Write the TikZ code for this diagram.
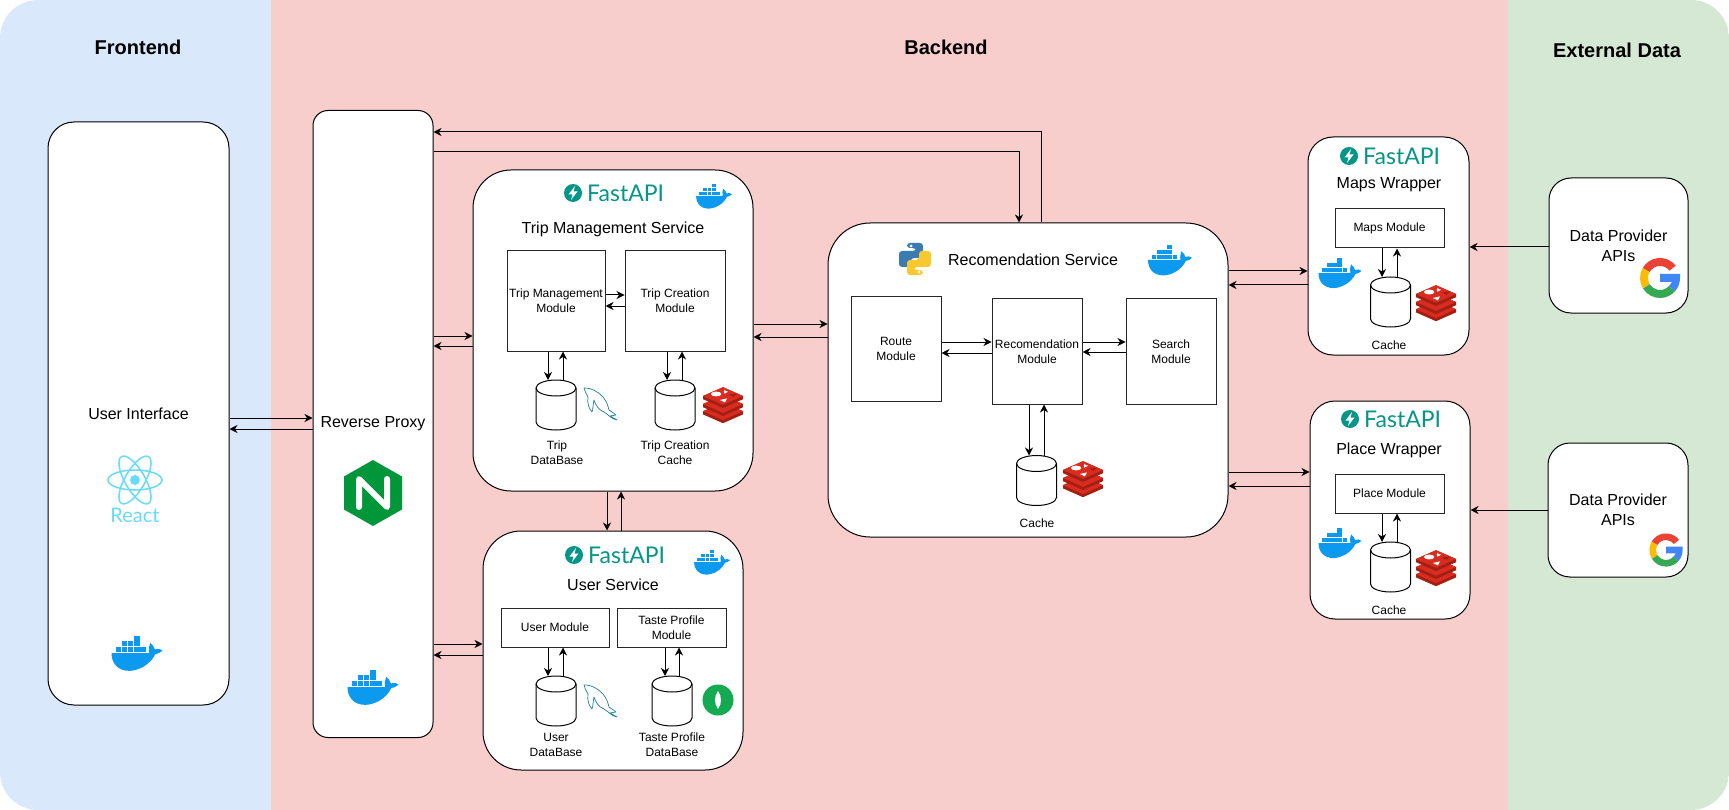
\documentclass[tikz,border=0pt]{standalone}
\usepackage{fontspec}
\setmainfont{Liberation Sans}
\newfontfamily\logofont{Lato}
\usetikzlibrary{arrows.meta}

\definecolor{frontbg}{HTML}{DAE8FC}
\definecolor{backbg}{HTML}{F8CECC}
\definecolor{extbg}{HTML}{D5E8D4}
\definecolor{dockerblue}{HTML}{0B9AEF}
\definecolor{fastteal}{HTML}{059688}
\definecolor{redisred}{HTML}{D82C20}
\definecolor{redisdark}{HTML}{A41E11}
\definecolor{mysqlteal}{HTML}{1F7F95}
\definecolor{reactblue}{HTML}{66DBFB}
\definecolor{nginxgreen}{HTML}{009639}
\definecolor{mongogreen}{HTML}{13AA52}
\definecolor{pyblue}{HTML}{3A7CB1}
\definecolor{pyyellow}{HTML}{F7C92F}
\definecolor{gred}{HTML}{EA4335}
\definecolor{gyellow}{HTML}{FBBC05}
\definecolor{ggreen}{HTML}{34A853}
\definecolor{gblue}{HTML}{4285F4}

\begin{document}
\begin{tikzpicture}[x=1pt, y=-1pt]
    \tikzset{heading/.style={font=\fontsize{20}{24}\selectfont\bfseries},
        title/.style={font=\fontsize{16}{20}\selectfont, align=center},
        small/.style={font=\fontsize{12}{15}\selectfont, align=center},
        service/.style={draw, fill=white, line width=1pt, rounded corners=#1,
            font=\fontsize{16}{20}\selectfont, align=center},
        module/.style={draw=black!85, fill=white, line width=1pt, inner sep=0pt,
            font=\fontsize{12}{15}\selectfont, align=center},
        store/.style={minimum width=40pt, minimum height=50pt, inner sep=0pt, outer sep=0pt},
        conn/.style={line width=1pt, -{Stealth[length=8pt, width=8pt, inset=2.5pt]}},
        pics/docker/.style={code={
            \fill[dockerblue] (-50,0) -- (24,0) .. controls (22,-8) and (24,-15) .. (26,-20)
                .. controls (31,-16) and (34,-11) .. (35,-7)
                .. controls (40,-9) and (46,-9) .. (50,-5)
                .. controls (45,0) and (40,2) .. (36,2)
                .. controls (25,25) and (0,35) .. (-15,35)
                .. controls (-38,35) and (-50,20) .. (-50,0) -- cycle;
            \foreach \cx/\cy in {-42/-2, -30/-2, -18/-2, -6/-2, 6/-2, -30/-13, -18/-13, -6/-13, -6/-24}
                \fill[dockerblue] (\cx,\cy) rectangle ++(11,-10);
        }},
        pics/redis/.style={code={
            \foreach \dy in {18, 0, -20} {
                \fill[redisdark] (-50,\dy) -- (0,\dy-22) -- (50,\dy) -- (50,\dy+8)
                    -- (0,\dy+30) -- (-50,\dy+8) -- cycle;
                \fill[redisred] (-50,\dy) -- (0,\dy-22) -- (50,\dy) -- (0,\dy+22) -- cycle;
            }
            \fill[white] (-17,-25) ellipse[x radius=13pt, y radius=6pt];
            \fill[white] (4,-36) -- (7,-32) -- (13,-31) -- (8,-28) -- (3,-26) -- (2,-31) -- cycle;
            \fill[white] (-8,-10) -- (10,-14) -- (5,-4) -- cycle;
            \fill[redisdark] (15,-24) -- (36,-26) -- (26,-18) -- cycle;
        }},
        pics/mysqlfish/.style={code={
            \draw[mysqlteal, line width=0.7pt, line join=round]
                (-16,-15) .. controls (-8,-15) and (-3,-12) .. (3,-6)
                .. controls (7,-1) and (8,3) .. (9,7)
                .. controls (12,9) and (15,11) .. (16,12) -- (10,13) -- (17,17)
                .. controls (11,16) and (8,11) .. (4,9)
                .. controls (-1,7) and (-4,3) .. (-6,-3)
                .. controls (-7,2) and (-7,6) .. (-8,9)
                .. controls (-11,6) and (-13,0) .. (-12,-6)
                .. controls (-14,-9) and (-15,-12) .. (-16,-15) -- cycle;
        }},
        pics/fastapi/.style={code={
            \fill[fastteal] (0,0) circle[radius=9pt];
            \fill[white] (2,-7) -- (-4.5,1.5) -- (-0.5,1.5) -- (-2,7) -- (4.5,-1.5) -- (0.5,-1.5) -- cycle;
            \node[anchor=west, inner sep=0pt, text=fastteal,
                font=\logofont\fontsize{23}{25}\selectfont] (-word) at (14,0) {FastAPI};
        }},
        pics/python/.style={code={
            \fill[rounded corners=3pt, pyblue] (-8,-16) -- (8,-16) -- (8,-1) -- (-4,-1)
                -- (-4,8) -- (-16,8) -- (-16,-8) -- (1,-8) -- (1,-11) -- (-8,-11) -- cycle;
            \fill[rounded corners=3pt, pyyellow] (8,16) -- (-8,16) -- (-8,1) -- (4,1)
                -- (4,-8) -- (16,-8) -- (16,8) -- (-1,8) -- (-1,11) -- (8,11) -- cycle;
            \fill[white] (-4,-13) circle[radius=1.5pt] (4,13) circle[radius=1.5pt];
        }},
        pics/google/.style={code={
            \begin{scope}[y=1pt]
                \fill[gred] (38:20) arc[start angle=38, end angle=150, radius=20]
                    -- (150:12) arc[start angle=150, end angle=38, radius=12] -- cycle;
                \fill[gyellow] (150:20) arc[start angle=150, end angle=212, radius=20]
                    -- (212:12) arc[start angle=212, end angle=150, radius=12] -- cycle;
                \fill[ggreen] (212:20) arc[start angle=212, end angle=318, radius=20]
                    -- (318:12) arc[start angle=318, end angle=212, radius=12] -- cycle;
                \fill[gblue] (318:20) arc[start angle=318, end angle=360, radius=20]
                    -- (20,4) -- (0,4) -- (0,-4) -- (12,-4) -- (318:12) -- cycle;
            \end{scope}
        }}}

    % backgrounds
    \useasboundingbox (0,0) rectangle (1729,810);
    \begin{scope}
        \clip[rounded corners=38pt] (0,0) rectangle (1729,810);
        \fill[frontbg] (0,0) rectangle (271,810);
        \fill[backbg] (271,0) rectangle (1508,810);
        \fill[extbg] (1508,0) rectangle (1729,810);
    \end{scope}
    \node[heading] (frontendhead) at (138,47) {Frontend};
    \node[heading] (backendhead) at (946,47) {Backend};
    \node[heading] (externalhead) at (1617,50) {External Data};

    % big boxes
    \node[service=26pt, minimum width=181pt, minimum height=583pt] (ui) at (138.5,413.5) {User Interface};
    \node[service=15pt, minimum width=120pt, minimum height=627pt] (proxy) at (373,424) {Reverse Proxy};
    \node[service=38pt, minimum width=280pt, minimum height=321pt] (trip) at (613,330.5) {};
    \node[service=38pt, minimum width=260pt, minimum height=239pt] (user) at (613,650.5) {};
    \node[service=42pt, minimum width=400pt, minimum height=314pt] (reco) at (1028,380) {};
    \node[service=25pt, minimum width=161pt, minimum height=218pt] (maps) at (1388.5,246) {};
    \node[service=25pt, minimum width=160pt, minimum height=218pt] (place) at (1390,510) {};
    \node[service=22pt, minimum width=139pt, minimum height=135pt] (dataone) at (1618.5,245.5) {Data Provider\\APIs};
    \node[service=22pt, minimum width=140pt, minimum height=134pt] (datatwo) at (1618,510) {Data Provider\\APIs};

    % titles
    \node[title] (triptitle) at (613,229) {Trip Management Service};
    \node[title] (usertitle) at (613,585) {User Service};
    \node[title] (recotitle) at (1033,260) {Recomendation Service};
    \node[title] (mapstitle) at (1389,185) {Maps Wrapper};
    \node[title] (placetitle) at (1389,450) {Place Wrapper};

    % modules
    \node[module, minimum width=98pt, minimum height=100pt] (tmmod) at (556,301) {Trip Management\\Module};
    \node[module, minimum width=100pt, minimum height=100pt] (tcmod) at (675,301) {Trip Creation\\Module};
    \node[module, minimum width=108pt, minimum height=39pt] (usermod) at (555,627.5) {User Module};
    \node[module, minimum width=109pt, minimum height=39pt] (tastemod) at (671.5,627.5) {Taste Profile\\Module};
    \node[module, minimum width=90pt, minimum height=105pt] (routemod) at (896,349) {Route\\Module};
    \node[module, minimum width=90pt, minimum height=105pt] (recomod) at (1037,351.5) {Recomendation\\Module};
    \node[module, minimum width=90pt, minimum height=105pt] (searchmod) at (1171,351.5) {Search\\Module};
    \node[module, minimum width=109pt, minimum height=39pt] (mapsmod) at (1389.5,228.5) {Maps Module};
    \node[module, minimum width=109pt, minimum height=39pt] (placemod) at (1389.5,493.5) {Place Module};

    % stores
    \node[store] (tripdb) at (556,405) {};
    \node[store] (tripcache) at (675,405) {};
    \node[store] (userdb) at (556,701) {};
    \node[store] (tastedb) at (672,701) {};
    \node[store] (recocache) at (1036.5,480.5) {};
    \node[store] (mapscache) at (1390.5,302) {};
    \node[store] (placecache) at (1390.5,567) {};
    \foreach \st in {tripdb, tripcache, userdb, tastedb, recocache, mapscache, placecache} {
        \draw[line width=1pt] ([yshift=-8pt]\st.north west)
            arc[start angle=180, end angle=0, x radius=20pt, y radius=8pt]
            -- ([yshift=8pt]\st.south east)
            arc[start angle=360, end angle=180, x radius=20pt, y radius=8pt] -- cycle;
        \draw[line width=1pt] ([yshift=-8pt]\st.north west)
            arc[start angle=180, end angle=360, x radius=20pt, y radius=8pt];
    }

    \node[small] (tripdblabel) at (557,453) {Trip\\DataBase};
    \node[small] (tripcachelabel) at (675,453) {Trip Creation\\Cache};
    \node[small] (userdblabel) at (556,745) {User\\DataBase};
    \node[small] (tastedblabel) at (672,745) {Taste Profile\\DataBase};
    \node[small] (recocachelabel) at (1037,523) {Cache};
    \node[small] (mapscachelabel) at (1389,345) {Cache};
    \node[small] (placecachelabel) at (1389,610) {Cache};

    % connectors
    \foreach \from/\to/\yy in {ui/proxy/418, proxy/trip/336, proxy/user/644, trip/reco/324,
            reco/maps/271, reco/place/472, routemod/recomod/342, recomod/searchmod/342, tmmod/tcmod/295}
        \draw[conn] (\from.east |- 0,\yy) -- (\to.west |- 0,\yy);
    \foreach \from/\to/\yy in {proxy/ui/429, trip/proxy/346, user/proxy/655, reco/trip/337,
            maps/reco/285, place/reco/486, recomod/routemod/353, searchmod/recomod/352, tcmod/tmmod/306,
            dataone/maps/247, datatwo/place/510}
        \draw[conn] (\from.west |- 0,\yy) -- (\to.east |- 0,\yy);
    \foreach \from/\to/\xa/\xb in {trip/user/607/621, tmmod/tripdb/548/563, tcmod/tripcache/667/682,
            usermod/userdb/548/563, tastemod/tastedb/665/679, recomod/recocache/1029/1044,
            mapsmod/mapscache/1382/1397, placemod/placecache/1382/1397} {
        \draw[conn] (\from.south -| \xa,0) -- (\to.north -| \xa,0);
        \draw[conn] (\to.north -| \xb,0) -- (\from.south -| \xb,0);
    }
    \draw[conn] (proxy.east |- 0,152) -| (reco.north -| 1019,0);
    \draw[conn] (reco.north -| 1041,0) |- (proxy.east |- 0,132);

    % logos
    \pic[scale=0.51] at (137,653) {docker};
    \pic[scale=0.51] at (373,687) {docker};
    \pic[scale=0.36] at (714,196) {docker};
    \pic[scale=0.36] at (712,562) {docker};
    \pic[scale=0.44] at (1170,260) {docker};
    \pic[scale=0.43] at (1340,273) {docker};
    \pic[scale=0.43] at (1340,543) {docker};
    \pic[scale=0.4] at (723,404) {redis};
    \pic[scale=0.4] at (1083,478) {redis};
    \pic[scale=0.4] at (1436,302) {redis};
    \pic[scale=0.4] at (1436,567) {redis};
    \pic at (600,403) {mysqlfish};
    \pic at (600,700) {mysqlfish};
    \pic (tripapi) at (573,193) {fastapi};
    \pic (userapi) at (574,555) {fastapi};
    \pic (mapsapi) at (1349,156) {fastapi};
    \pic (placeapi) at (1350,419) {fastapi};
    \pic at (915,259) {python};
    \pic at (1660,278) {google};
    \pic[scale=0.83] at (1666,550) {google};

    % react
    \foreach \ang in {0, 60, 120}
        \draw[reactblue, line width=1.5pt, rotate around={\ang:(135,480)}]
            (135,480) ellipse[x radius=27pt, y radius=10pt];
    \fill[reactblue] (135,480) circle[radius=5pt];
    \node[text=reactblue, font=\logofont\fontsize{20}{22}\selectfont] (reactword) at (135,515) {React};

    % nginx
    \fill[nginxgreen] (373,460) -- (402,476.5) -- (402,509.5) -- (373,526) -- (344,509.5) -- (344,476.5) -- cycle;
    \draw[white, line width=6pt, line cap=round, line join=round]
        (359,507) -- (359,479) -- (387,507) -- (387,479);

    % mongo
    \fill[mongogreen] (718,700) circle[radius=15.5pt];
    \fill[white] (718,691) .. controls (722,696) and (722,704) .. (718,709)
        .. controls (714,704) and (714,696) .. (718,691) -- cycle;
\end{tikzpicture}
\end{document}
